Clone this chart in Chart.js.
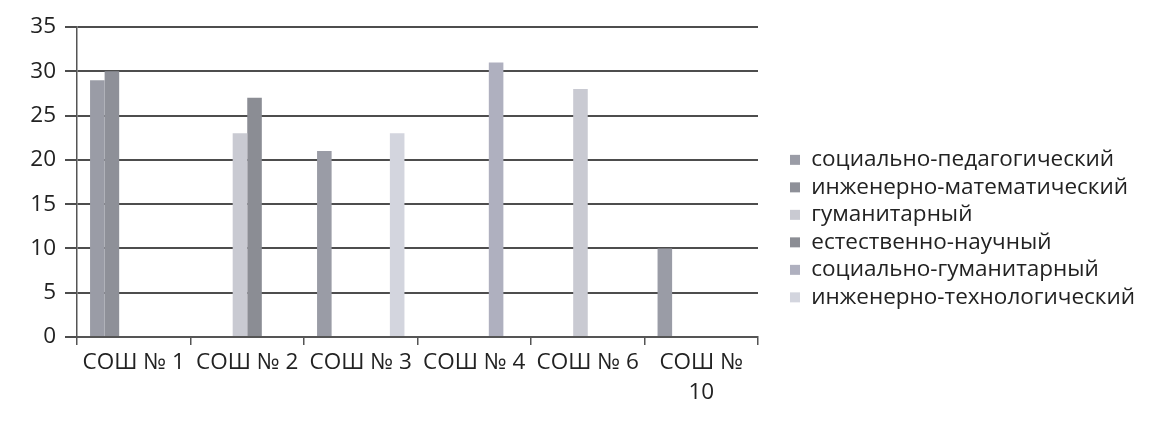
<!DOCTYPE html>
<html>
<head>
<meta charset="utf-8">
<script src="https://cdn.jsdelivr.net/npm/chart.js@4"></script>
<style>
  body { margin: 0; background: #fff; overflow: hidden; }
</style>
</head>
<body>
<canvas id="chart" width="1150" height="421"></canvas>
<script>
// categories and series
const schools = ["СОШ № 1", "СОШ № 2", "СОШ № 3", "СОШ № 4", "СОШ № 6", ["СОШ №", "10"]];
const seriesNames = [
  "социально-педагогический",
  "инженерно-математический",
  "гуманитарный",
  "естественно-научный",
  "социально-гуманитарный",
  "инженерно-технологический"
];
const socPed   = [29, null, 21, null, null, 10];
const ingMat   = [30, null, null, null, null, null];
const gum      = [null, 23, null, null, 28, null];
const estNauch = [null, 27, null, null, null, null];
const socGum   = [null, null, null, 31, null, null];
const ingTech  = [null, null, 23, null, null, null];
const yTicks = [0, 5, 10, 15, 20, 25, 30, 35];

const colors = ["#9a9ca6", "#8e9098", "#c9cad2", "#8b8d94", "#afb0bf", "#d3d5de"];
const values = [socPed, ingMat, gum, estNauch, socGum, ingTech];

const FONT = '"Open Sans", "DejaVu Sans", sans-serif';
const fontSize = 22.5;

// work out right padding so the legend sits where it does in the scan
const mctx = document.createElement("canvas").getContext("2d");
mctx.font = fontSize + "px " + FONT;
const maxText = Math.max(...seriesNames.map(s => mctx.measureText(s).width));
const legendLeft = 785;
const legendWidth = 5 + 10 + fontSize / 2 + maxText + 10;
const padRight = Math.max(0, 1150 - legendLeft - legendWidth);

new Chart(document.getElementById("chart"), {
  type: "bar",
  data: {
    labels: schools,
    datasets: seriesNames.map((name, i) => ({
      label: name,
      data: values[i],
      backgroundColor: colors[i],
      borderWidth: 0,
      yAxisID: "y"
    }))
  },
  options: {
    responsive: false,
    animation: false,
    devicePixelRatio: 1,
    layout: { padding: { top: 27, right: padRight, bottom: 0, left: 0 } },
    datasets: { bar: { categoryPercentage: 0.77, barPercentage: 1 } },
    scales: {
      x: {
        grid: { display: true, drawOnChartArea: false, drawTicks: true, tickLength: 8, offset: true, color: "#555", lineWidth: 1.5 },
        border: { display: true, color: "#555", width: 2 },
        ticks: { color: "#222", font: { family: FONT, size: fontSize, lineHeight: 1.35 }, maxRotation: 0, autoSkip: false, padding: 2 },
        afterFit: s => { s.height = 84; }
      },
      y: {
        min: 0,
        max: 35,
        afterBuildTicks: s => { s.ticks = yTicks.map(v => ({ value: v })); },
        grid: { color: "#4d4d4d", lineWidth: 2, tickLength: 12 },
        border: { display: true, color: "#555", width: 1.5 },
        ticks: { color: "#222", font: { family: FONT, size: fontSize }, padding: 9 },
        afterFit: s => { s.width = 77; }
      },
      yR: {
        position: "right",
        display: true,
        grid: { display: false },
        border: { display: false },
        ticks: { display: false },
        afterFit: s => { s.width = 27; }
      }
    },
    plugins: {
      legend: {
        position: "right",
        align: "center",
        maxWidth: 420,
        title: { display: true, text: " ", font: { size: 1 }, padding: { top: 8, bottom: 0 } },
        labels: {
          boxWidth: 10,
          boxHeight: 10,
          padding: 5,
          color: "#222",
          font: { family: FONT, size: fontSize }
        }
      },
      tooltip: { enabled: false }
    }
  }
});
</script>
</body>
</html>
